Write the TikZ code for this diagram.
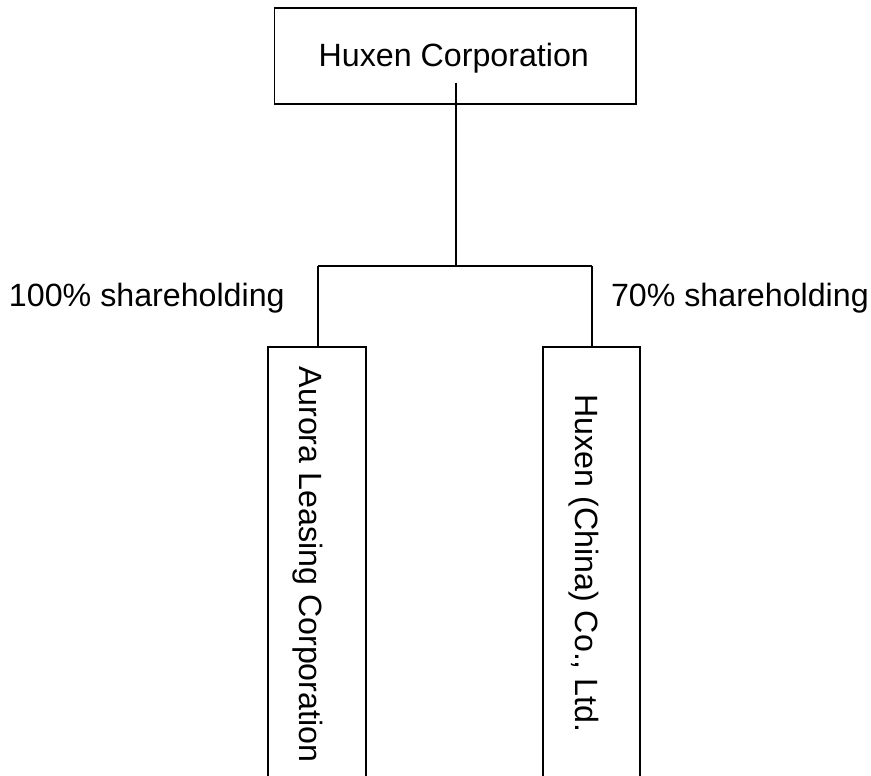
\documentclass[tikz,border=0pt]{standalone}
\usepackage{fontspec}
\setmainfont{Liberation Sans}
\begin{document}
\begin{tikzpicture}[x=1pt,y=-1pt,
  box/.style={draw,line width=1.8pt,inner sep=0pt},
  txt/.style={inner sep=0pt,anchor=base west,font=\fontsize{32.2}{38}\selectfont},
  conn/.style={line width=1.8pt}]
\useasboundingbox (0,0) rectangle (871,776);
% boxes
\node[box,minimum width=361.4pt,minimum height=96.3pt] (top) at (455.15,55.85) {};
\node[box,minimum width=97.5pt,minimum height=431.3pt] (left) at (317.05,562.35) {};
\node[box,minimum width=96.4pt,minimum height=431.3pt] (right) at (591.5,562.35) {};
% texts
\node[txt] (toptxt) at (318.5,66.7) {Huxen Corporation};
\node[txt,rotate=-90] (lefttxt) at (299.3,366.7) {Aurora Leasing Corporation};
\node[txt,rotate=-90] (righttxt) at (575,394.2) {Huxen (China) Co., Ltd.};
\node[txt] (lab1) at (8.8,306.7) {100\% shareholding};
\node[txt] (lab2) at (610.8,306.7) {70\% shareholding};
% connectors
\coordinate (ts) at (455.7,82.7);
\coordinate (j) at (455.7,265.7);
\coordinate (jl) at (318,265.7);
\coordinate (jr) at (592,265.7);
\draw[conn] (ts) -- (j);
\draw[conn] (jl) -- (jr);
\draw[conn] (jl) -- (left.north -| jl);
\draw[conn] (jr) -- (right.north -| jr);
\end{tikzpicture}
\end{document}
